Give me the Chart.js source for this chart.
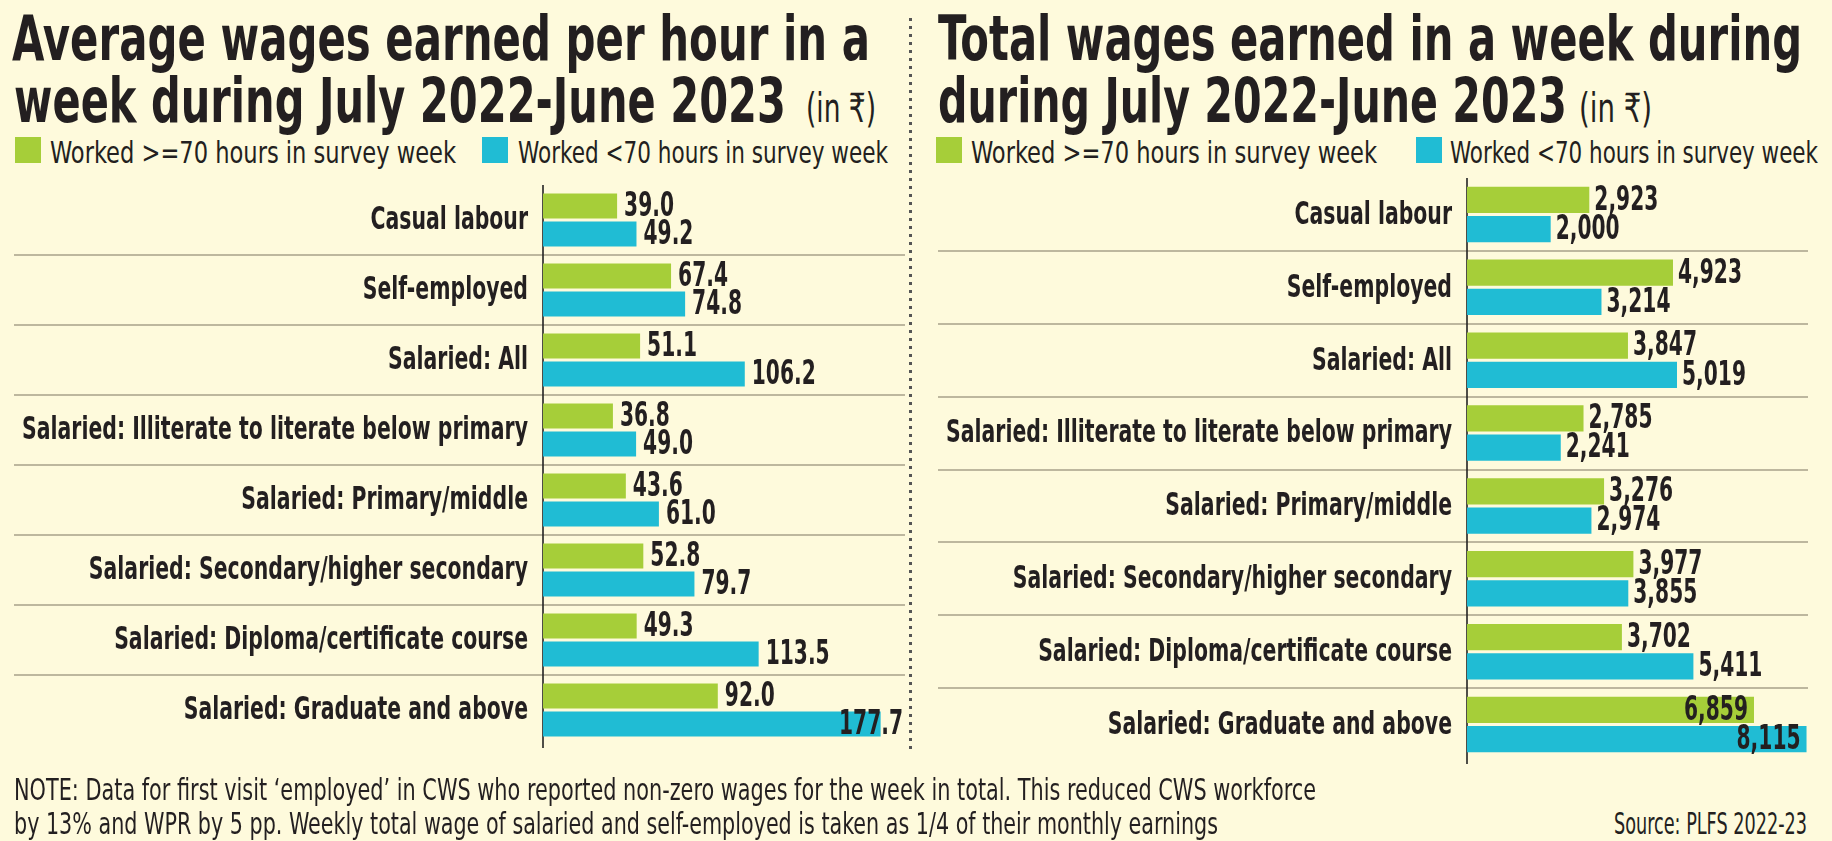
<!DOCTYPE html>
<html>
<head>
<meta charset="utf-8">
<script src="https://cdn.jsdelivr.net/npm/chart.js@4/dist/chart.umd.min.js"></script>
<style>
  html, body { margin: 0; padding: 0; background: #FEFADC; }
  #page { position: relative; width: 1832px; height: 841px; background: #FEFADC; overflow: hidden;
          font-family: "Liberation Sans Narrow", "DejaVu Sans Condensed", "Roboto Condensed", sans-serif; color: #231F20; }
  .t { position: absolute; white-space: nowrap; line-height: 1; transform-origin: 0 0; }
  .b { font-weight: 700; }
  .sq { position: absolute; width: 26px; height: 26px; }
  canvas { position: absolute; }
  #divider { position: absolute; left: 909px; top: 18px; width: 3px; height: 735px;
             background: repeating-linear-gradient(to bottom, #555 0 3px, transparent 3px 8px); }
</style>
</head>
<body>
<div id="page">
  <!-- left titles -->
  <div class="t b" style="left:12px;top:8px;font-size:62px" data-w="858">Average wages earned per hour in a</div>
  <div class="t b" style="left:14px;top:70px;font-size:62px" data-w="772">week during July 2022-June 2023</div>
  <div class="t" style="left:806px;top:88px;font-size:40px;font-family:'Liberation Sans Narrow','DejaVu Sans Condensed','Noto Sans',sans-serif" data-w="70">(in ₹)</div>

  <!-- right titles -->
  <div class="t b" style="left:938px;top:8px;font-size:62px" data-w="864">Total wages earned in a week during</div>
  <div class="t b" style="left:938px;top:70px;font-size:62px" data-w="629">during July 2022-June 2023</div>
  <div class="t" style="left:1579px;top:88px;font-size:40px;font-family:'Liberation Sans Narrow','DejaVu Sans Condensed','Noto Sans',sans-serif" data-w="73">(in ₹)</div>

  <!-- legends -->
  <div class="sq" style="left:15px;top:137px;background:#A6CE39"></div>
  <div class="t" style="left:50px;top:137px;font-size:31px" data-w="406">Worked &gt;=70 hours in survey week</div>
  <div class="sq" style="left:482px;top:137px;background:#20BCD4"></div>
  <div class="t" style="left:518px;top:137px;font-size:31px" data-w="370">Worked &lt;70 hours in survey week</div>

  <div class="sq" style="left:936px;top:137px;background:#A6CE39"></div>
  <div class="t" style="left:971px;top:137px;font-size:31px" data-w="406">Worked &gt;=70 hours in survey week</div>
  <div class="sq" style="left:1416px;top:137px;background:#20BCD4"></div>
  <div class="t" style="left:1450px;top:137px;font-size:31px" data-w="368">Worked &lt;70 hours in survey week</div>

  <div id="divider"></div>

  <canvas id="leftChart" width="910" height="600" style="left:0;top:170px"></canvas>
  <canvas id="rightChart" width="916" height="620" style="left:916px;top:160px"></canvas>

  <!-- notes -->
  <div class="t" style="left:14px;top:775px;font-size:30px" data-w="1302">NOTE: Data for first visit ‘employed’ in CWS who reported non-zero wages for the week in total. This reduced CWS workforce</div>
  <div class="t" style="left:14px;top:809px;font-size:30px" data-w="1204">by 13% and WPR by 5 pp. Weekly total wage of salaried and self-employed is taken as 1/4 of their monthly earnings</div>
  <div class="t" style="left:1614px;top:809px;font-size:30px" data-w="193">Source: PLFS 2022-23</div>
</div>

<script>
'use strict';

// ------------------------------- Data ------------------------------//
const categories = [
  'Casual labour',
  'Self-employed',
  'Salaried: All',
  'Salaried: Illiterate to literate below primary',
  'Salaried: Primary/middle',
  'Salaried: Secondary/higher secondary',
  'Salaried: Diploma/certificate course',
  'Salaried: Graduate and above'
];
const seriesNames = ['Worked >=70 hours in survey week', 'Worked <70 hours in survey week'];

// average wage per hour (Rs)
const hourlyLong = [39.0, 67.4, 51.1, 36.8, 43.6, 52.8, 49.3, 92.0];
const hourlyShort = [49.2, 74.8, 106.2, 49.0, 61.0, 79.7, 113.5, 177.7];

// total wage in a week (Rs)
const weeklyLong = [2923, 4923, 3847, 2785, 3276, 3977, 3702, 6859];
const weeklyShort = [2000, 3214, 5019, 2241, 2974, 3855, 5411, 8115];

// ------------------------------- Styles ------------------------------//
const GREEN = '#A6CE39';
const BLUE = '#20BCD4';
const INK = '#231F20';
const FONT = '"Liberation Sans Narrow", "DejaVu Sans Condensed", "Roboto Condensed", sans-serif';
const LABEL_FONT = 'bold 32px ' + FONT;
const VALUE_FONT = 'bold 34px ' + FONT;

// squeeze factor so the canvas text gets as narrow as the print font
function squeeze(ctx, font, sample, width) {
  ctx.font = font;
  return width / ctx.measureText(sample).width;
}

function drawText(ctx, text, x, y, align, f) {
  ctx.save();
  ctx.translate(x, y);
  ctx.scale(f, 1);
  ctx.textAlign = align;
  ctx.fillText(text, 0, 0);
  ctx.restore();
}

const panelPlugin = {
  id: 'panel',
  beforeDatasetsDraw(chart, args, opts) {
    const ctx = chart.ctx;
    const area = chart.chartArea;
    const yScale = chart.scales.y;
    ctx.save();
    ctx.strokeStyle = '#BDB79E';
    ctx.lineWidth = 2;
    for (let i = 1; i < categories.length; i++) {
      const y = Math.round((yScale.getPixelForValue(i - 1) + yScale.getPixelForValue(i)) / 2);
      ctx.beginPath();
      ctx.moveTo(opts.sepFrom, y);
      ctx.lineTo(area.right + opts.sepExtra, y);
      ctx.stroke();
    }
    ctx.strokeStyle = '#222';
    ctx.lineWidth = 1.6;
    ctx.beginPath();
    ctx.moveTo(area.left, area.top);
    ctx.lineTo(area.left, area.bottom + 3);
    ctx.stroke();
    ctx.restore();
  },
  afterDatasetsDraw(chart, args, opts) {
    const ctx = chart.ctx;
    const area = chart.chartArea;
    const yScale = chart.scales.y;
    ctx.save();
    ctx.fillStyle = INK;
    ctx.textBaseline = 'middle';

    // category labels
    const fl = squeeze(ctx, LABEL_FONT, 'Salaried: Illiterate to literate below primary', 506);
    categories.forEach((name, i) => {
      drawText(ctx, name, area.left - 15, yScale.getPixelForValue(i) + 1, 'right', fl);
    });

    // value labels
    const fv = squeeze(ctx, VALUE_FONT, '6,859', 64);
    chart.data.datasets.forEach((ds, di) => {
      chart.getDatasetMeta(di).data.forEach((bar, i) => {
        const text = opts.format(ds.data[i]);
        const w = ctx.measureText(text).width * fv;
        let x = bar.x + opts.pad;
        if (x + w > area.right + opts.edge) {
          x = opts.overflow === 'clamp' ? area.right + opts.edge - w : bar.x - 6 - w;
        }
        drawText(ctx, text, x, bar.y + 1, 'left', fv);
      });
    });
    ctx.restore();
  }
};

function makeChart(id, longData, shortData, xMax, padding, panelOpts) {
  const ctx = document.getElementById(id).getContext('2d');
  return new Chart(ctx, {
    type: 'bar',
    data: {
      labels: categories,
      datasets: [
        { label: seriesNames[0], data: longData, backgroundColor: GREEN,
          categoryPercentage: 0.8, barPercentage: 0.9 },
        { label: seriesNames[1], data: shortData, backgroundColor: BLUE,
          categoryPercentage: 0.8, barPercentage: 0.9 }
      ]
    },
    options: {
      indexAxis: 'y',
      responsive: false,
      animation: false,
      layout: { padding: padding },
      plugins: {
        legend: { display: false },
        tooltip: { enabled: false },
        panel: panelOpts
      },
      scales: {
        x: { display: false, min: 0, max: xMax },
        y: { display: false }
      }
    },
    plugins: [panelPlugin]
  });
}

function fitTexts() {
  document.querySelectorAll('[data-w]').forEach(el => {
    const w = el.getBoundingClientRect().width;
    el.style.transform = 'scaleX(' + (Number(el.dataset.w) / w) + ')';
  });
}

function build() {
  fitTexts();
  makeChart('leftChart', hourlyLong, hourlyShort, 190,
    { left: 543, right: 6, top: 15, bottom: 25 },
    { sepFrom: 14, sepExtra: 1, pad: 7, edge: -1, overflow: 'clamp',
      format: v => v.toFixed(1) });
  makeChart('rightChart', weeklyLong, weeklyShort, 8150,
    { left: 551, right: 24, top: 18, bottom: 19 },
    { sepFrom: 22, sepExtra: 0, pad: 5, edge: 3, overflow: 'inside',
      format: v => v.toLocaleString('en-US') });
}

if (document.fonts && document.fonts.ready) {
  document.fonts.ready.then(build);
} else {
  build();
}
</script>
</body>
</html>
